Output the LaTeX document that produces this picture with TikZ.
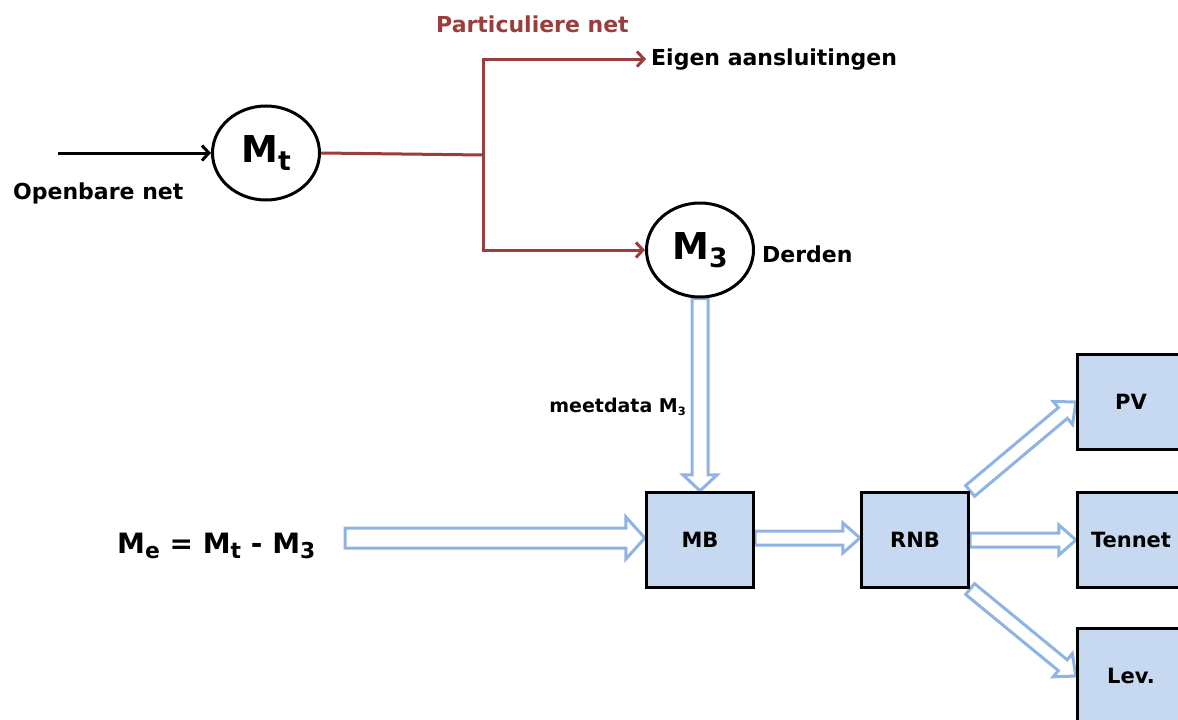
\documentclass[tikz,border=0pt]{standalone}
\usepackage{fontspec}
\setmainfont{DejaVu Sans}
\usetikzlibrary{shapes.geometric,arrows.meta,calc,backgrounds}
\definecolor{netred}{RGB}{152,62,60}
\definecolor{flowblue}{RGB}{141,180,226}
\definecolor{boxfill}{RGB}{198,217,241}
\newcommand\lsub[2][0.72]{\raisebox{-0.2em}{\scalebox{#1}{#2}}}
% hollow block arrow: #1 start, #2 end, #3 shaft half-width, #4 head half-width, #5 head length
\newcommand\hollow[5]{%
  \coordinate (hs) at (#1);
  \coordinate (he) at (#2);
  \coordinate (hh) at ($(he)!#5!(hs)$);
  \draw[harrow] ($(hs)!#3!90:(he)$) -- ($(hh)!#3!-90:(hs)$) -- ($(hh)!#4!-90:(hs)$) -- (he)
     -- ($(hh)!#4!90:(hs)$) -- ($(hh)!#3!90:(hs)$) -- ($(hs)!#3!-90:(he)$) -- cycle;
}
\begin{document}
\begin{tikzpicture}[x=1pt,y=-1pt,
  lbl/.style={font=\fontsize{22}{26}\selectfont\bfseries, inner sep=0pt},
  meter/.style={draw, fill=white, ellipse, line width=3pt, minimum width=107pt, minimum height=94pt,
    inner sep=0pt, font=\fontsize{37}{40}\selectfont\bfseries},
  stepbox/.style={draw, line width=3.2pt, fill=boxfill, minimum width=107pt, minimum height=95pt,
    inner sep=0pt, font=\fontsize{21}{24}\selectfont\bfseries},
  blk/.style={line width=3pt, -{Straight Barb[length=7pt,width=15pt]}},
  redline/.style={netred, line width=3pt, line join=miter},
  redarrow/.style={redline, -{Straight Barb[length=7pt,width=15pt]}, shorten >=5pt},
  harrow/.style={draw=flowblue, fill=white, line width=3pt, line join=miter}
]
\useasboundingbox (0,0) rectangle (1178,720);
\clip (0,0) rectangle (1178,720);

% meters
\node[meter] (Mt) at (266,153) {M\lsub{t}};
\node[meter] (M3) at (700,250) {M\lsub{3}};

% input
\coordinate (inA) at (58,153);
\draw[blk] (inA) -- (Mt.west);
\node[lbl, anchor=base west] (open) at (13,199) {Openbare net};

% private net
\node[lbl, text=netred, anchor=base west] (part) at (436,32) {Particuliere net};
\node[lbl, anchor=base west] (eigen) at (651,65) {Eigen aansluitingen};
\node[lbl, anchor=base west] (derden) at (762,262) {Derden};
\coordinate (J) at (483,155);
\draw[redline] (Mt.east) -- (J);
\draw[redarrow] (J) |- (eigen.west);
\draw[redarrow, shorten >=0pt] (J) |- (M3.west);

% boxes
\node[stepbox] (MB) at (700,540) {MB};
\node[stepbox] (RNB) at (915,540) {RNB};
\node[stepbox] (PV) at (1131,402) {PV};
\node[stepbox] (Ten) at (1131,540) {Tennet};
\node[stepbox] (Lev) at (1131,676) {Lev.};

% texts
\node[font=\fontsize{19}{22}\selectfont\bfseries, anchor=base east, inner sep=0pt] (meet) at (686,412)
  {meetdata M\lsub[0.6]{3}};
\node[font=\fontsize{28}{32}\selectfont\bfseries, anchor=base west, inner sep=0pt] (formula) at (117,553)
  {M\lsub[0.78]{e} = M\lsub[0.78]{t} - M\lsub[0.78]{3}};
\coordinate (fstart) at (345,538);

% flows
\begin{scope}[on background layer]
  \hollow{fstart}{[yshift=2pt]MB.west}{10pt}{21pt}{19pt}
  \hollow{M3.south}{MB.north}{8pt}{17pt}{16pt}
  \hollow{[yshift=2pt]MB.east}{[yshift=2pt]RNB.west}{7pt}{15pt}{17pt}
  \hollow{RNB.north east}{PV.west}{7pt}{15pt}{17pt}
  \hollow{RNB.east}{Ten.west}{7pt}{15pt}{17pt}
  \hollow{RNB.south east}{Lev.west}{7pt}{15pt}{17pt}
\end{scope}
\end{tikzpicture}
\end{document}
